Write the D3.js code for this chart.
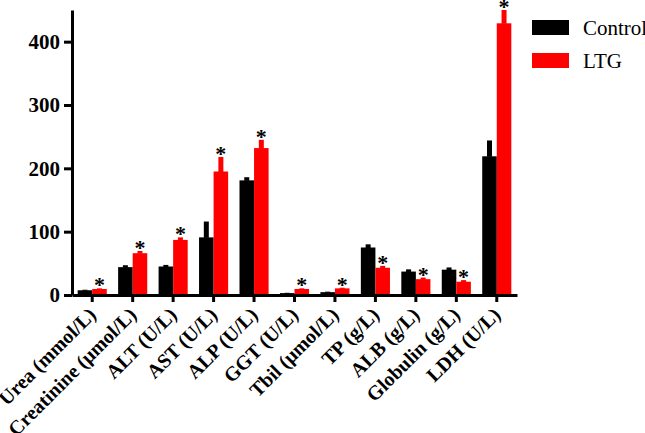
<!DOCTYPE html>
<html>
<head>
<meta charset="utf-8">
<script src="https://cdn.jsdelivr.net/npm/d3@7"></script>
<style>
  body { margin: 0; background: #fff; }
</style>
</head>
<body>
<div id="chart"></div>
<script>
// categories and series
var categories = ['Urea (mmol/L)', 'Creatinine (\u03bcmol/L)', 'ALT (U/L)', 'AST (U/L)', 'ALP (U/L)',
  'GGT (U/L)', 'Tbil (\u03bcmol/L)', 'TP (g/L)', 'ALB (g/L)', 'Globulin (g/L)', 'LDH (U/L)']
var series = ['Control', 'LTG']
var controlValues = [7.5, 44, 45, 91, 181, 3, 4.5, 75, 37, 40, 219]
var controlErrors = [0.8, 3, 2.5, 25, 5, 0.5, 0.8, 5, 3.5, 3.5, 25]
var ltgValues = [9.5, 66, 87, 195, 232, 9.5, 10.5, 43, 25, 21, 429]
var ltgErrors = [1, 3.5, 4, 23, 13, 1, 1, 3, 2.5, 2.5, 21]
var significant = [true, true, true, true, true, true, true, true, true, true, true]
var yTicks = [0, 100, 200, 300, 400]
var colors = ['#000000', '#ff0000']

var width = 645
    height = 433
    serif = '"Liberation Serif", "Times New Roman", Times, "DejaVu Serif", serif'

var svg = d3.select('#chart')
  .append('svg')
    .attr('width', width)
    .attr('height', height)

// scales
var x = d3.scaleBand()
  .domain(categories)
  .range([72, 517])
  .padding(0)

var xInner = d3.scaleBand()
  .domain(series)
  .range([0, x.bandwidth()])
  .paddingInner(0)
  .paddingOuter(0.39)

var y = d3.scaleLinear()
  .domain([0, 450])
  .range([295, 10])

var rows = categories.map(function(c, i) {
  return {
    cat: c,
    sig: significant[i],
    bars: [
      {key: 'Control', value: controlValues[i], err: controlErrors[i]},
      {key: 'LTG', value: ltgValues[i], err: ltgErrors[i]}
    ]
  }
})

var color = d3.scaleOrdinal().domain(series).range(colors)

// bars
var groups = svg.append('g')
  .selectAll('g')
  .data(rows)
  .enter()
  .append('g')
    .attr('transform', function(d) { return 'translate(' + x(d.cat) + ',0)' })

groups.selectAll('rect.bar')
  .data(function(d) { return d.bars })
  .enter()
  .append('rect')
    .attr('class', 'bar')
    .attr('x', function(d) { return xInner(d.key) })
    .attr('width', xInner.bandwidth())
    .attr('y', function(d) { return y(d.value) })
    .attr('height', function(d) { return y(0) - y(d.value) })
    .attr('fill', function(d) { return color(d.key) })

// upper error bars
groups.selectAll('rect.err')
  .data(function(d) { return d.bars })
  .enter()
  .append('rect')
    .attr('class', 'err')
    .attr('x', function(d) { return xInner(d.key) + xInner.bandwidth() / 2 - 2.5 })
    .attr('width', 5)
    .attr('y', function(d) { return y(d.value + d.err) })
    .attr('height', function(d) { return y(d.value) - y(d.value + d.err) + 0.5 })
    .attr('fill', function(d) { return color(d.key) })

// significance stars over LTG bars
groups.filter(function(d) { return d.sig })
  .append('text')
    .attr('x', xInner('LTG') + xInner.bandwidth() / 2)
    .attr('y', function(d) { return y(d.bars[1].value + d.bars[1].err) + 4 })
    .attr('text-anchor', 'middle')
    .style('font-size', '22px')
    .style('font-weight', 'bold')
    .text('*')

// axes
var yAxis = svg.append('g')
  .attr('transform', 'translate(72,0)')
  .call(d3.axisLeft(y).tickValues(yTicks).tickSize(8).tickSizeOuter(0).tickPadding(4))

var xAxis = svg.append('g')
  .attr('transform', 'translate(0,295)')
  .call(d3.axisBottom(x).tickSize(7).tickSizeOuter(0))

svg.selectAll('.domain, .tick line')
  .attr('stroke', '#000')
  .attr('stroke-width', 3)

yAxis.selectAll('text')
  .attr('fill', '#000')
  .style('font-size', '21px')
  .style('font-weight', 'bold')

xAxis.selectAll('text')
  .attr('fill', '#000')
  .attr('x', 0)
  .attr('y', 0)
  .attr('dy', '0.35em')
  .attr('transform', 'translate(0,16) rotate(-45)')
  .style('text-anchor', 'end')
  .style('font-size', '20px')
  .style('font-weight', 'bold')

// legend
var legend = svg.append('g')
  .selectAll('g')
  .data(series)
  .enter()
  .append('g')
    .attr('transform', function(d, i) { return 'translate(532,' + (20 + i * 33) + ')' })

legend.append('rect')
  .attr('width', 37)
  .attr('height', 15)
  .attr('fill', function(d) { return color(d) })

legend.append('text')
  .attr('x', 51)
  .attr('y', 15)
  .style('font-size', '21px')
  .attr('fill', '#000')
  .text(function(d) { return d })

svg.selectAll('text').style('font-family', serif)
svg.selectAll('g').attr('font-family', null)
</script>
</body>
</html>
